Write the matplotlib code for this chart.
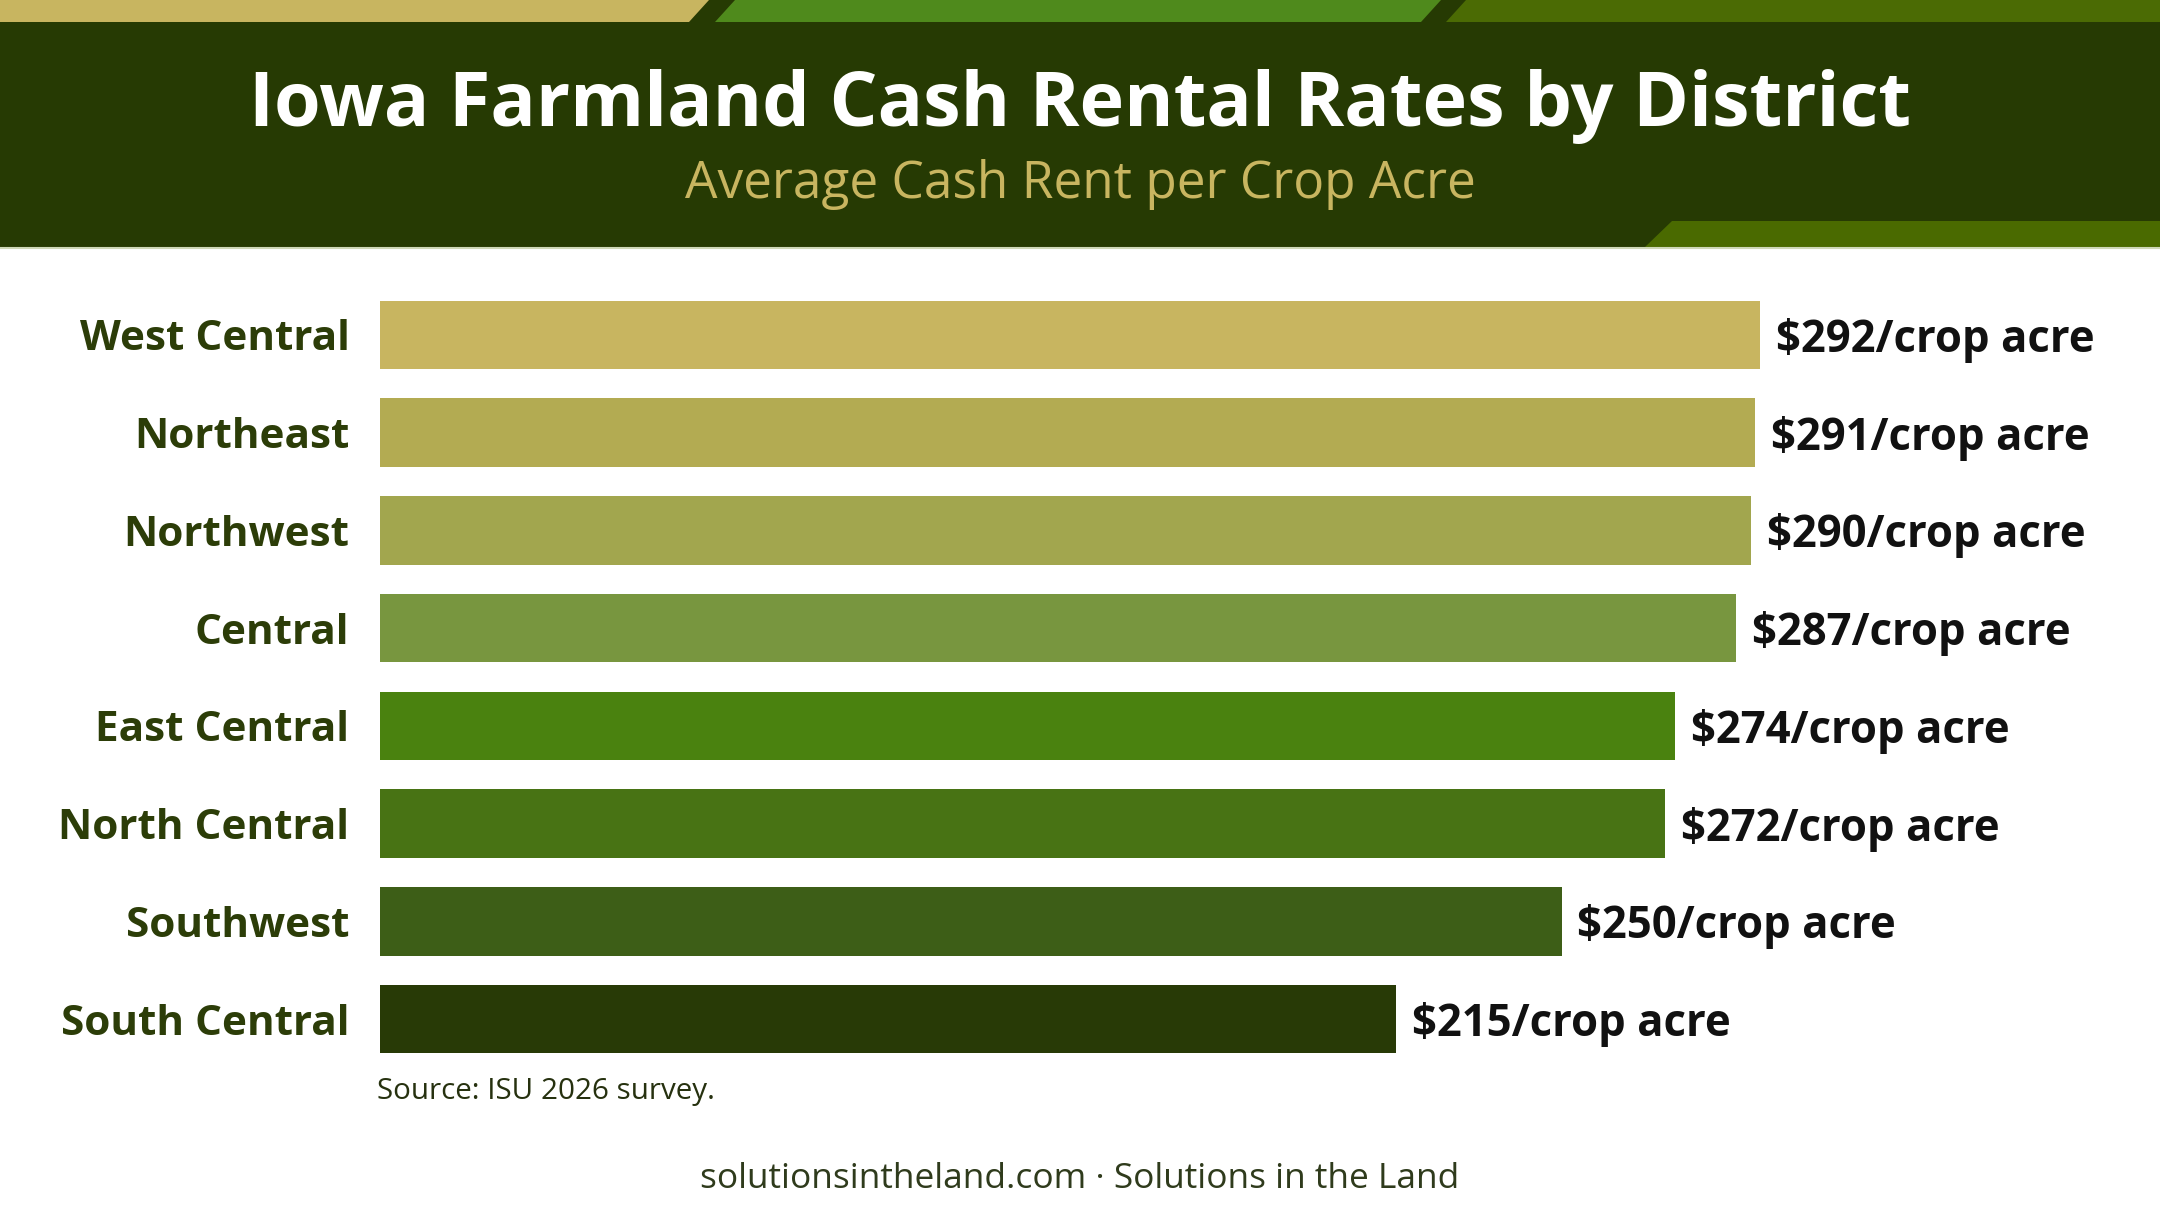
import matplotlib
matplotlib.use("Agg")
import matplotlib.pyplot as plt
from matplotlib.patches import Polygon, Rectangle

# ---- data ----
districts = ["West Central", "Northeast", "Northwest", "Central",
             "East Central", "North Central", "Southwest", "South Central"]
rents = [292, 291, 290, 287, 274, 272, 250, 215]
bar_colors = ["#c8b560", "#b3ab52", "#a2a64e", "#78963f",
              "#4a820f", "#487314", "#3d5e17", "#283a06"]
title = "Iowa Farmland Cash Rental Rates by District"
subtitle = "Average Cash Rent per Crop Acre"
source = "Source: ISU 2026 survey."
footer = "solutionsintheland.com \u00b7 Solutions in the Land"
unit = "/crop acre"

W, H = 2160, 1206
DPI = 100
plt.rcParams['font.family'] = ['Open Sans', 'DejaVu Sans']

fig = plt.figure(figsize=(W / DPI, H / DPI), dpi=DPI, facecolor="white")

# ---- decoration layer in pixel coords ----
bg = fig.add_axes([0, 0, 1, 1])
bg.set_xlim(0, W)
bg.set_ylim(H, 0)
bg.axis("off")

HEADER_DARK = "#263a03"
bg.add_patch(Rectangle((0, 0), W, 247, color=HEADER_DARK, lw=0))
# top stripes
bg.add_patch(Polygon([(0, 0), (709, 0), (689, 22), (0, 22)], color="#c8b560", lw=0))
bg.add_patch(Polygon([(735, 0), (1441, 0), (1421, 22), (715, 22)], color="#4f8a1c", lw=0))
bg.add_patch(Polygon([(1466, 0), (W, 0), (W, 22), (1446, 22)], color="#4b6b04", lw=0))
# lower right accent
bg.add_patch(Polygon([(1672, 221), (W, 221), (W, 247), (1645, 247)], color="#4a6a00", lw=0))
bg.plot([0, W], [247.5, 247.5], color="#cfd8b8", lw=1.5)

t_title = bg.text(W / 2, 107, title, color="white", fontsize=50, fontweight="bold",
                  ha="center", va="center")
t_sub = bg.text(W / 2, 184, subtitle, color="#c8b560", fontsize=33,
                ha="center", va="center")
t_src = bg.text(377, 1092, source, color="#26310f", fontsize=19,
                ha="left", va="center")
t_foot = bg.text(W / 2, 1179, footer, color="#2f3b1c", fontsize=24,
                 ha="center", va="center")

# ---- bar chart ----
left_px, top_px, bot_px = 380, 286, 1068
ax = fig.add_axes([left_px / W, 1 - bot_px / H, (W - left_px) / W, (bot_px - top_px) / H])
ax.set_facecolor("none")
ypos = list(range(len(districts)))
ax.barh(ypos, rents, height=0.70, color=bar_colors, edgecolor="none")
ax.set_xlim(0, 292 * (W - left_px) / 1380)
ax.set_ylim(len(districts) - 0.5, -0.5)
for s in ax.spines.values():
    s.set_visible(False)
ax.set_xticks([])
ax.set_yticks(ypos)
ax.set_yticklabels(districts, fontsize=31, fontweight="bold", color="#2c3d08")
ax.tick_params(axis="y", length=0, pad=22)

vlabels = []
for y, v in zip(ypos, rents):
    vlabels.append(ax.annotate(f"${v}{unit}", xy=(v, y), xytext=(11.5, -4),
                               textcoords="offset points", ha="left", va="center",
                               fontsize=31, fontweight="bold", color="#111111"))

# fit text widths to reference
fig.canvas.draw()
r = fig.canvas.get_renderer()

def fit(txt, target):
    w = txt.get_window_extent(r).width
    txt.set_fontsize(txt.get_fontsize() * target / w)

fit(t_title, 1664)
fit(t_sub, 792)
fit(t_src, 339)
fit(t_foot, 760)
lab0 = ax.get_yticklabels()[0]
w0 = lab0.get_window_extent(r).width
fs_lab = 31 * 270 / w0
for lab in ax.get_yticklabels():
    lab.set_fontsize(fs_lab)
w1 = vlabels[0].get_window_extent(r).width
fs_val = 31 * 318 / w1
for t in vlabels:
    t.set_fontsize(fs_val)

fig.savefig("out.png", dpi=DPI, facecolor="white")
